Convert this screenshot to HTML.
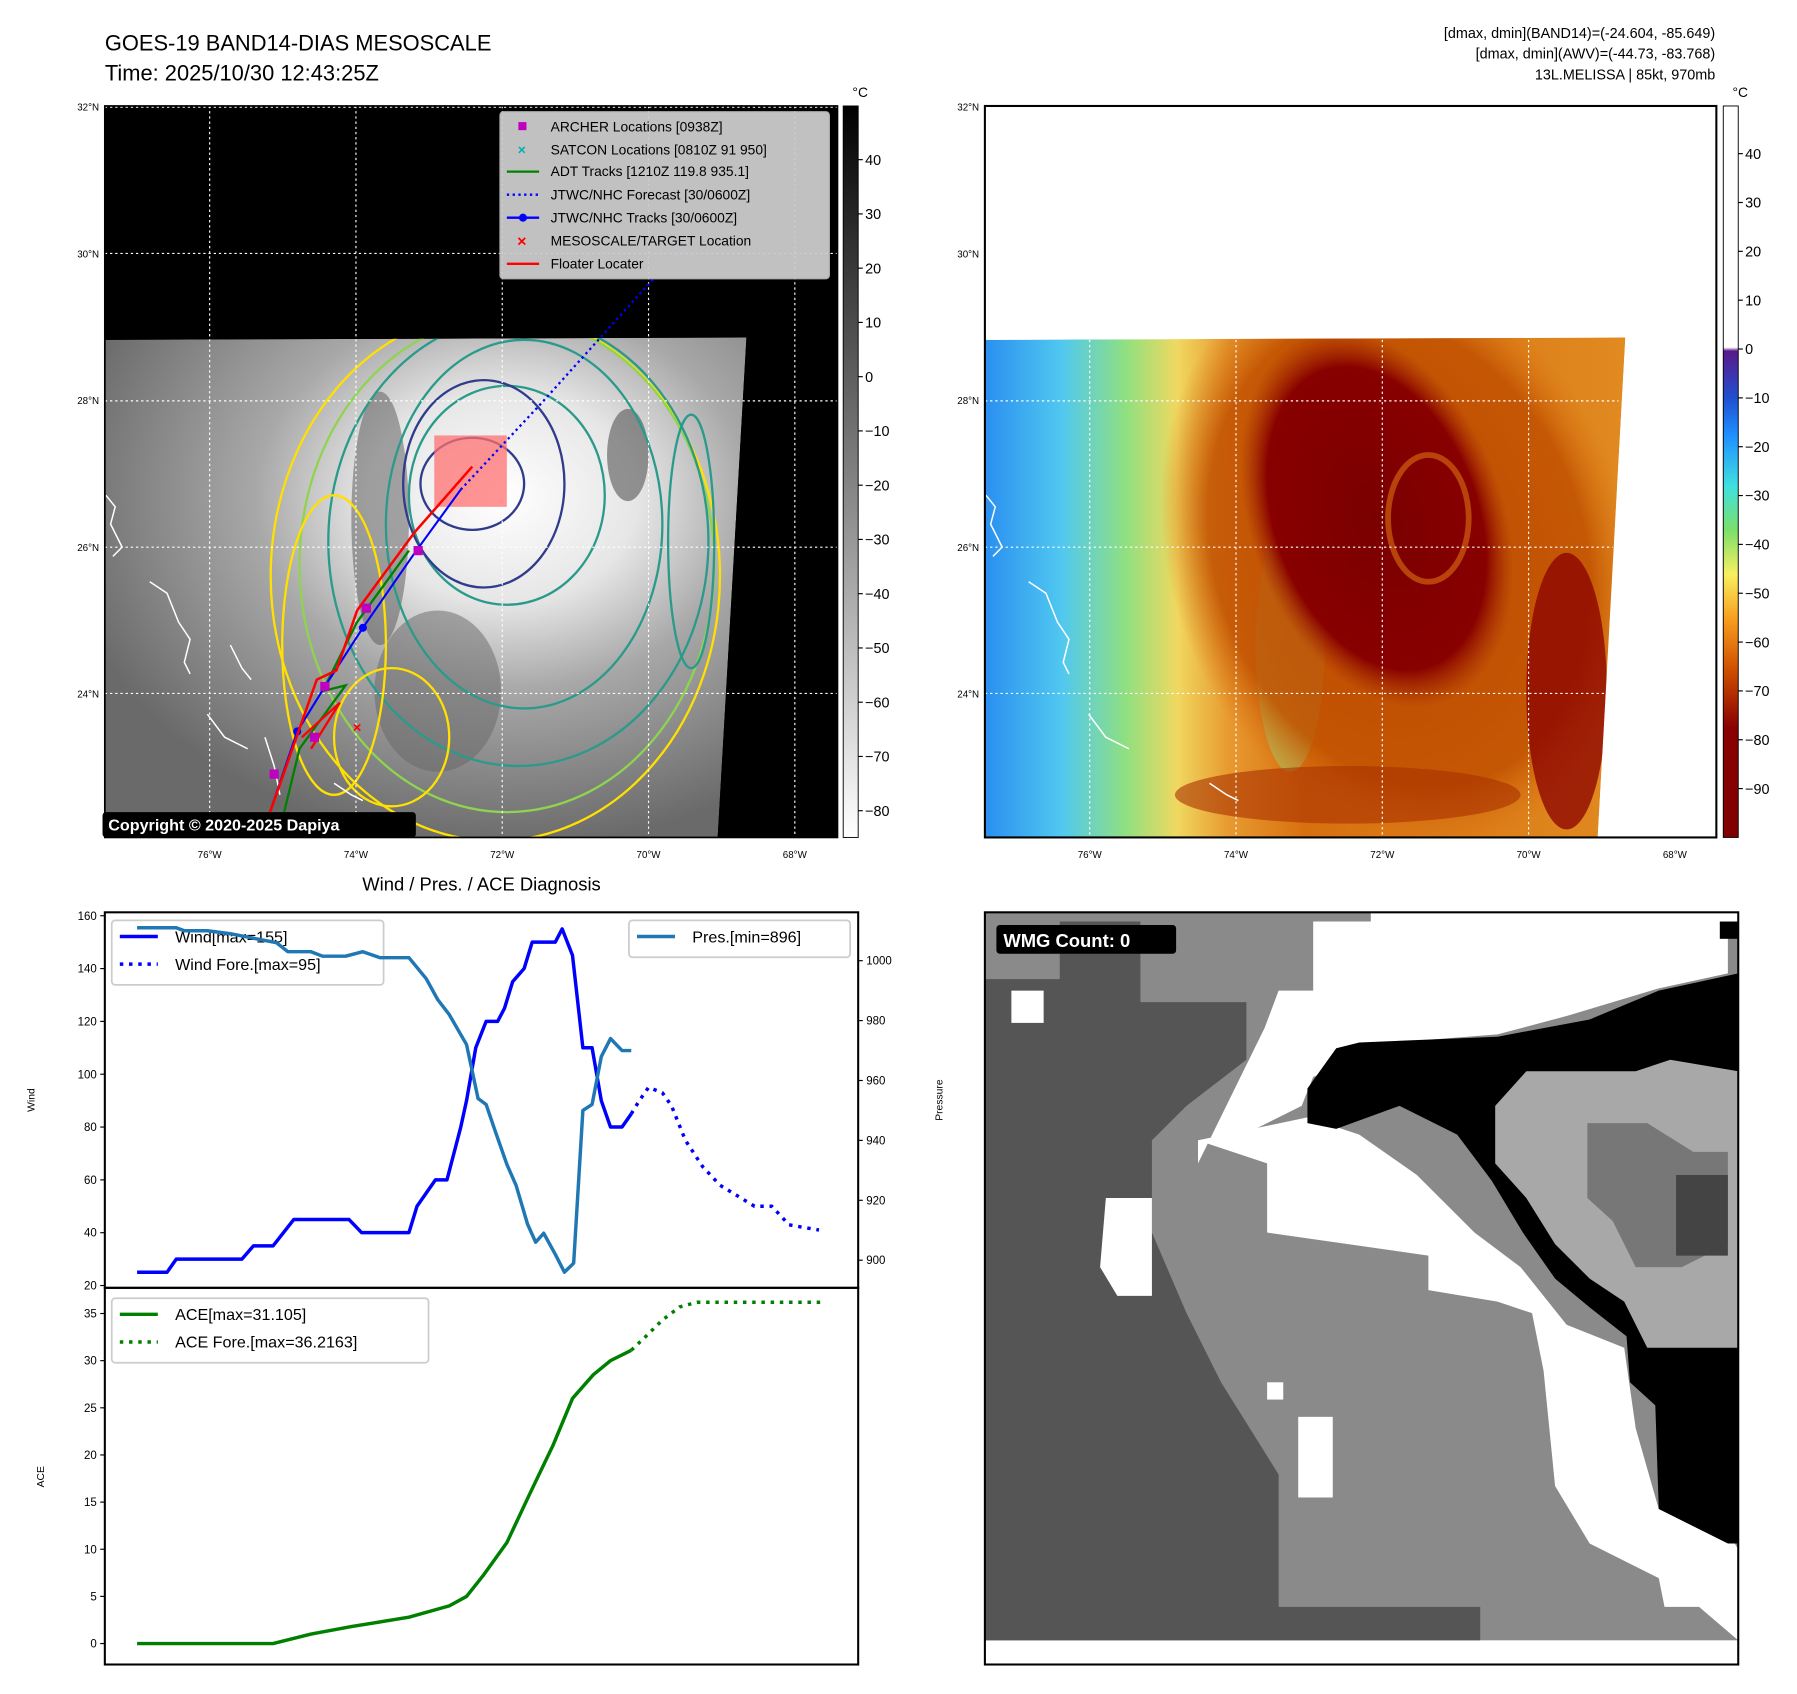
<!DOCTYPE html>
<html><head><meta charset="utf-8">
<style>
html,body{margin:0;padding:0;background:#fff;}
svg{display:block;font-family:"Liberation Sans","DejaVu Sans",sans-serif;}
</style></head>
<body>
<svg id="root" width="1797" height="1694" viewBox="0 0 1560 1470.6" xmlns="http://www.w3.org/2000/svg">
<defs>
  <radialGradient id="irGray" cx="0.62" cy="0.32" r="0.7">
    <stop offset="0" stop-color="#ffffff"/>
    <stop offset="0.3" stop-color="#e6e6e6"/>
    <stop offset="0.55" stop-color="#a8a8a8"/>
    <stop offset="1" stop-color="#6a6a6a"/>
  </radialGradient>
  <linearGradient id="cbGray" x1="0" y1="0" x2="0" y2="1">
    <stop offset="0" stop-color="#000"/><stop offset="1" stop-color="#fff"/>
  </linearGradient>
  <linearGradient id="cbColor" x1="0" y1="0" x2="0" y2="1">
    <stop offset="0" stop-color="#ffffff"/>
    <stop offset="0.33" stop-color="#ffffff"/>
    <stop offset="0.335" stop-color="#5a1a8a"/>
    <stop offset="0.4" stop-color="#2050d0"/>
    <stop offset="0.45" stop-color="#1e90ff"/>
    <stop offset="0.52" stop-color="#40e0e0"/>
    <stop offset="0.58" stop-color="#7be06a"/>
    <stop offset="0.64" stop-color="#f8f060"/>
    <stop offset="0.7" stop-color="#f8a020"/>
    <stop offset="0.77" stop-color="#d05000"/>
    <stop offset="0.85" stop-color="#8a0000"/>
    <stop offset="1" stop-color="#800000"/>
  </linearGradient>
  <linearGradient id="awvBase" x1="0" y1="0" x2="1" y2="0">
    <stop offset="0" stop-color="#2a8ff0"/>
    <stop offset="0.12" stop-color="#50c8f0"/>
    <stop offset="0.22" stop-color="#90e080"/>
    <stop offset="0.3" stop-color="#f0d860"/>
    <stop offset="0.38" stop-color="#e89a30"/>
    <stop offset="0.5" stop-color="#d87010"/>
    <stop offset="1" stop-color="#e08a20"/>
  </linearGradient>
  <radialGradient id="awvCore" cx="0.5" cy="0.5" r="0.5">
    <stop offset="0" stop-color="#7a0000"/>
    <stop offset="0.8" stop-color="#880000"/>
    <stop offset="1" stop-color="#a02800" stop-opacity="0"/>
  </radialGradient>
  <radialGradient id="awvRing" cx="0.5" cy="0.5" r="0.5">
    <stop offset="0" stop-color="#b84000"/>
    <stop offset="0.8" stop-color="#c05000"/>
    <stop offset="1" stop-color="#d87010" stop-opacity="0"/>
  </radialGradient>
  <clipPath id="clipL"><polygon points="91,295 648,293 623,727 91,727"/></clipPath>
  <clipPath id="clipR"><polygon points="855,295 1411,293 1387,727 855,727"/></clipPath>
  <clipPath id="clipLA"><rect x="91" y="92" width="636" height="635"/></clipPath>
</defs>

<!-- Header -->
<text x="91" y="44" font-size="19">GOES-19 BAND14-DIAS MESOSCALE</text>
<text x="91" y="70" font-size="19">Time: 2025/10/30 12:43:25Z</text>
<text x="1489" y="33" font-size="12.5" text-anchor="end">[dmax, dmin](BAND14)=(-24.604, -85.649)</text>
<text x="1489" y="51" font-size="12.5" text-anchor="end">[dmax, dmin](AWV)=(-44.73, -83.768)</text>
<text x="1489" y="69" font-size="12.5" text-anchor="end">13L.MELISSA | 85kt, 970mb</text>

<!-- Left map -->
<g>
  <rect x="91" y="92" width="636" height="635" fill="#000"/>
  <g clip-path="url(#clipL)">
    <polygon points="91,295 648,293 623,727 91,727" fill="url(#irGray)"/>
    <ellipse cx="330" cy="450" rx="25" ry="110" fill="#555" opacity="0.5"/>
    <ellipse cx="380" cy="600" rx="55" ry="70" fill="#666" opacity="0.5"/>
    <ellipse cx="545" cy="395" rx="18" ry="40" fill="#555" opacity="0.6"/>
    <g fill="none" stroke-width="2">
      <ellipse cx="430" cy="500" rx="195" ry="230" stroke="#ffe000"/>
      <ellipse cx="440" cy="490" rx="180" ry="215" stroke="#8fd44f"/>
      <ellipse cx="450" cy="470" rx="165" ry="195" stroke="#2a9a8a"/>
      <ellipse cx="455" cy="455" rx="120" ry="160" stroke="#2a9a8a"/>
      <ellipse cx="440" cy="430" rx="85" ry="95" stroke="#2a9a8a"/>
      <ellipse cx="420" cy="420" rx="70" ry="90" stroke="#2f3b8c"/>
      <ellipse cx="410" cy="420" rx="45" ry="40" stroke="#2f3b8c"/>
      <ellipse cx="290" cy="560" rx="45" ry="130" stroke="#ffe000"/>
      <ellipse cx="340" cy="640" rx="50" ry="60" stroke="#ffe000"/>
      <ellipse cx="600" cy="470" rx="20" ry="110" stroke="#2a9a8a"/>
    </g>
  </g>
  <g clip-path="url(#clipLA)">
  <g fill="none" stroke="#fff" stroke-width="1.3">
    <path d="M92,430 l8,10 l-4,15 l10,20 l-8,8"/>
    <path d="M130,505 l15,10 l10,25 l10,15 l-5,20 l5,10"/>
    <path d="M200,560 l10,20 l8,10"/>
    <path d="M180,620 l15,20 l20,10"/>
    <path d="M230,640 l8,25 l5,25"/>
    <path d="M290,680 l15,10 l10,5"/>
  </g>
  <g stroke="#fff" stroke-width="1" stroke-dasharray="2,2.5">
    <line x1="91" y1="93" x2="727" y2="93"/><line x1="91" y1="220" x2="727" y2="220"/>
    <line x1="91" y1="348" x2="727" y2="348"/><line x1="91" y1="475" x2="727" y2="475"/>
    <line x1="91" y1="602" x2="727" y2="602"/>
    <line x1="182" y1="92" x2="182" y2="727"/><line x1="309" y1="92" x2="309" y2="727"/>
    <line x1="436" y1="92" x2="436" y2="727"/><line x1="563" y1="92" x2="563" y2="727"/>
    <line x1="690" y1="92" x2="690" y2="727"/>
  </g>
  <rect x="377" y="378" width="63" height="62" fill="#ff7070" opacity="0.75"/>
  <polyline points="400,425 470,350 560,250 705,95" fill="none" stroke="#0000ff" stroke-width="2" stroke-dasharray="2,3"/>
  <polyline points="245,712 260,650 300,595 280,600 310,540 355,478" fill="none" stroke="#008000" stroke-width="2"/>
  <polyline points="232,712 258,635 282,596 315,545 360,480 400,425" fill="none" stroke="#0000ff" stroke-width="1.8"/>
  <g fill="#0000ff"><circle cx="258" cy="635" r="3.5"/><circle cx="315" cy="545" r="3.5"/></g>
  <polyline points="232,712 275,590 292,582 310,530 360,462 410,405" fill="none" stroke="#ff0000" stroke-width="2.2"/>
  <polyline points="262,640 295,610 270,650" fill="none" stroke="#ff0000" stroke-width="2"/>
  <g fill="#c000c0">
    <rect x="359" y="474" width="8" height="8"/><rect x="314" y="524" width="8" height="8"/>
    <rect x="278" y="592" width="8" height="8"/><rect x="269" y="636" width="8" height="8"/>
    <rect x="234" y="668" width="8" height="8"/>
  </g>
  <text x="310" y="636" font-size="13" fill="#ff0000" text-anchor="middle" font-weight="bold">×</text>
  </g>
</g>
<rect x="91" y="92" width="636" height="635" fill="none" stroke="#000" stroke-width="1.5"/>

<!-- Left legend -->
<g font-size="12">
  <rect x="434" y="97" width="286" height="145" rx="3" fill="#cccccc" stroke="#b8b8b8" opacity="0.95"/>
  <rect x="450" y="106" width="7" height="7" fill="#c000c0"/><text x="478" y="114">ARCHER Locations [0938Z]</text>
  <text x="453" y="134" fill="#00b0b0" font-size="12" text-anchor="middle" font-weight="bold">×</text><text x="478" y="134">SATCON Locations [0810Z 91 950]</text>
  <line x1="440" y1="149" x2="468" y2="149" stroke="#008000" stroke-width="2"/><text x="478" y="153">ADT Tracks [1210Z 119.8 935.1]</text>
  <line x1="440" y1="169" x2="468" y2="169" stroke="#0000ff" stroke-width="2" stroke-dasharray="2,3"/><text x="478" y="173">JTWC/NHC Forecast [30/0600Z]</text>
  <line x1="440" y1="189" x2="468" y2="189" stroke="#0000ff" stroke-width="2"/><circle cx="454" cy="189" r="3.5" fill="#0000ff"/><text x="478" y="193">JTWC/NHC Tracks [30/0600Z]</text>
  <text x="453" y="214" fill="#ff0000" font-size="14" text-anchor="middle" font-weight="bold">×</text><text x="478" y="213">MESOSCALE/TARGET Location</text>
  <line x1="440" y1="229" x2="468" y2="229" stroke="#ff0000" stroke-width="2"/><text x="478" y="233">Floater Locater</text>
</g>
<rect x="89" y="705" width="272" height="22" rx="3" fill="#000"/>
<text x="94" y="721" font-size="14" font-weight="bold" fill="#fff">Copyright © 2020-2025 Dapiya</text>

<!-- Right map -->
<g>
  <rect x="855" y="92" width="635" height="635" fill="#fff"/>
  <g clip-path="url(#clipR)">
    <polygon points="855,295 1411,293 1387,727 855,727" fill="url(#awvBase)"/>
    <ellipse cx="1120" cy="560" rx="30" ry="110" fill="#9ae080" opacity="0.5"/>
    <ellipse cx="1215" cy="480" rx="200" ry="260" fill="url(#awvRing)" transform="rotate(-20 1215 480)" opacity="0.85"/>
    <ellipse cx="1195" cy="450" rx="110" ry="170" fill="url(#awvCore)" transform="rotate(-20 1195 450)"/>
    <ellipse cx="1360" cy="600" rx="35" ry="120" fill="#8a0000" opacity="0.75"/>
    <ellipse cx="1240" cy="450" rx="35" ry="55" fill="none" stroke="#d06010" stroke-width="5" opacity="0.7"/>
    <ellipse cx="1170" cy="690" rx="150" ry="25" fill="#a83000" opacity="0.6"/>
  </g>
  <g fill="none" stroke="#fff" stroke-width="1.3">
    <path d="M856,430 l8,10 l-4,15 l10,20 l-8,8"/>
    <path d="M893,505 l15,10 l10,25 l10,15 l-5,20 l5,10"/>
    <path d="M945,620 l15,20 l20,10"/>
    <path d="M1050,680 l15,10 l10,5"/>
  </g>
  <g stroke="#fff" stroke-width="1" stroke-dasharray="2,2.5">
    <line x1="855" y1="348" x2="1405" y2="348"/><line x1="855" y1="475" x2="1400" y2="475"/>
    <line x1="855" y1="602" x2="1394" y2="602"/>
    <line x1="946" y1="295" x2="946" y2="727"/><line x1="1073" y1="295" x2="1073" y2="727"/>
    <line x1="1200" y1="295" x2="1200" y2="727"/><line x1="1327" y1="295" x2="1327" y2="727"/>
  </g>
</g>
<rect x="855" y="92" width="635" height="635" fill="none" stroke="#000" stroke-width="1.8"/>

<!-- Colorbars -->
<rect x="732" y="92" width="13" height="635" fill="url(#cbGray)" stroke="#000" stroke-width="0.8"/>
<rect x="1496" y="92" width="13" height="635" fill="url(#cbColor)" stroke="#000" stroke-width="0.8"/>
<text x="740" y="84" font-size="12">°C</text>
<text x="1504" y="84" font-size="12">°C</text>
<g id="cbTicks" font-size="12.5"></g>

<!-- Map axis labels -->
<g id="mapLabels" font-size="8.5"></g>

<text x="418" y="773" font-size="16" text-anchor="middle">Wind / Pres. / ACE Diagnosis</text>

<!-- Charts -->
<g id="charts"></g>

<!-- WMG panel -->
<g>
  <clipPath id="clipW"><rect x="855" y="792" width="654" height="653"/></clipPath>
  <g clip-path="url(#clipW)">
    <rect x="855" y="792" width="654" height="653" fill="#fff"/>
    <rect x="855" y="792" width="654" height="632" fill="#8a8a8a"/>
    <polygon fill="#555" points="855,850 920,850 920,800 990,800 990,870 1082,870 1082,920 1030,960 1000,990 1000,1070 1030,1140 1060,1200 1110,1280 1110,1395 1285,1395 1285,1424 855,1424"/>
    <polygon fill="#fff" points="1098,892 1110,860 1140,860 1140,800 1190,800 1190,792 1509,792 1509,800 1500,800 1500,845 1440,858 1360,882 1300,898 1210,905 1140,935 1130,960 1090,980 1040,990 1040,1010"/>
    <polygon fill="#fff" points="1040,990 1135,970 1180,985 1230,1020 1280,1070 1320,1100 1360,1150 1410,1170 1420,1240 1440,1310 1500,1330 1509,1345 1509,1424 1475,1395 1445,1395 1440,1370 1380,1340 1350,1290 1340,1190 1330,1140 1300,1130 1240,1120 1240,1090 1100,1070 1100,1010"/>
    <polygon fill="#fff" points="960,1040 1000,1040 1000,1125 970,1125 955,1100"/>
    <polygon fill="#000" points="1135,945 1160,910 1180,905 1300,900 1380,885 1440,860 1509,845 1509,1340 1500,1340 1440,1310 1437,1220 1415,1200 1412,1160 1380,1135 1350,1110 1322,1070 1295,1025 1265,985 1215,960 1160,980 1135,975"/>
    <polygon fill="#a8a8a8" points="1298,960 1325,930 1420,930 1450,920 1509,930 1509,1170 1430,1170 1410,1130 1380,1110 1350,1080 1325,1040 1298,1010"/>
    <polygon fill="#777" points="1378,975 1430,975 1470,1000 1500,1000 1500,1080 1460,1100 1420,1100 1400,1060 1378,1040"/>
    <polygon fill="#444" points="1455,1020 1500,1020 1500,1090 1455,1090"/>
    <rect x="1127" y="1230" width="30" height="70" fill="#fff"/>
    <rect x="1100" y="1200" width="14" height="15" fill="#fff"/>
    <rect x="878" y="860" width="28" height="28" fill="#fff"/>
    <rect x="1493" y="800" width="16" height="15" fill="#000"/>
  </g>
  <rect x="855" y="792" width="654" height="653" fill="none" stroke="#000" stroke-width="1.8"/>
  <rect x="865" y="803" width="156" height="25" rx="3" fill="#000"/>
  <text x="871" y="822" font-size="16" font-weight="bold" fill="#fff">WMG Count: 0</text>
</g>

<script>
// ---- chart data ----
const windT = [0,26,34,91,101,118,136,184,195,236,243,259,269,281,286,294,303,313,319,326,336,343,363,369,378,387,395,403,411,421,429];
const windV = [25,25,30,30,35,35,45,45,40,40,50,60,60,80,90,110,120,120,125,135,140,150,150,155,145,110,110,90,80,80,85];
const windForeT = [429,436,444,456,464,476,491,506,521,536,551,566,579,592];
const windForeV = [85,90,95,93,88,75,65,58,54,50,50,43,42,41];
const presT = [0,34,41,61,81,121,131,151,161,181,196,211,236,251,261,271,286,296,303,311,321,329,339,346,353,363,371,379,387,395,403,411,421,429];
const presV = [1011,1011,1010,1010,1009,1006,1003,1003,1001.5,1001.5,1003,1001,1001,994,987,982,972,954,952,943,932,925,912,906,909,902,896,899,950,952,968,974,970,970];
const aceT = [0,118,151,186,236,271,286,301,321,341,361,378,396,411,429];
const aceV = [0,0,1,1.8,2.8,4,5,7.3,10.7,15.9,21,26,28.5,30,31.1];
const aceForeT = [429,441,456,471,486,597];
const aceForeV = [31.1,32.5,34.3,35.7,36.2,36.2];
const windTicks = [20,40,60,80,100,120,140,160];
const presTicks = [900,920,940,960,980,1000];
const aceTicks = [0,5,10,15,20,25,30,35];
const grayCbTicks = [40,30,20,10,0,-10,-20,-30,-40,-50,-60,-70,-80];
const colorCbTicks = [40,30,20,10,0,-10,-20,-30,-40,-50,-60,-70,-80,-90];
const latLabels = ["32°N","30°N","28°N","26°N","24°N"];
const lonLabels = ["76°W","74°W","72°W","70°W","68°W"];

const NS = "http://www.w3.org/2000/svg";
function mk(tag, attrs, parent){const e=document.createElementNS(NS,tag);for(const k in attrs)e.setAttribute(k,attrs[k]);parent.appendChild(e);return e;}

// axis functions
const xT = t => 119 + t * 1.0;
const yWind = v => 1116 - (v - 20) * 2.293;
const yPres = v => 834 - (v - 1000) * 2.6;
const yAce = v => 1426.8 - v * 8.186;

const charts = document.getElementById('charts');

// legends (drawn first so lines show over them)
function legend(x,y,w,h,items,name){
  const g=mk('g',{},charts);
  
  
  mk('rect',{x:x,y:y,width:w,height:h,rx:3,fill:'#fff',stroke:'#ccc','stroke-width':1.5},g);
  items.forEach((it,i)=>{
    const cy=y+14+i*24;
    const l=mk('line',{x1:x+7,y1:cy,x2:x+40,y2:cy,stroke:it.c,'stroke-width':3},g);
    if(it.d) l.setAttribute('stroke-dasharray','3,5');
    const t=mk('text',{x:x+55,y:cy+5,'font-size':14},g); t.textContent=it.t;
  });
}
legend(97,799,236,56,[{c:'#0000ff',t:'Wind[max=155]'},{c:'#0000ff',t:'Wind Fore.[max=95]',d:1}],'wind-legend');
legend(546,799,192,32,[{c:'#1f77b4',t:'Pres.[min=896]'}],'pressure-legend');
legend(97,1127,275,56,[{c:'#008000',t:'ACE[max=31.105]'},{c:'#008000',t:'ACE Fore.[max=36.2163]',d:1}],'ace-legend');

function line(ts, vs, yf, color, dash, name){
  const pts = ts.map((t,i)=> xT(t).toFixed(1)+','+yf(vs[i]).toFixed(1)).join(' ');
  const p = mk('polyline',{points:pts,fill:'none',stroke:color,'stroke-width':3,'stroke-linejoin':'round'},charts);
  if(dash) p.setAttribute('stroke-dasharray',dash);
  
  
}
line(windT, windV, yWind, '#0000ff', null, 'wind-line');
line(windForeT, windForeV, yWind, '#0000ff', '3,5', 'wind-forecast-line');
line(presT, presV, yPres, '#1f77b4', null, 'pressure-line');
line(aceT, aceV, yAce, '#008000', null, 'ace-line');
line(aceForeT, aceForeV, yAce, '#008000', '3,5', 'ace-forecast-line');

// axes frames
mk('rect',{x:91,y:792,width:654,height:326,fill:'none',stroke:'#000','stroke-width':1.8},charts);
mk('rect',{x:91,y:1118,width:654,height:327,fill:'none',stroke:'#000','stroke-width':1.8},charts);

windTicks.forEach(v=>{
  const y=yWind(v);
  mk('line',{x1:87,y1:y,x2:91,y2:y,stroke:'#000'},charts);
  const t=mk('text',{x:84,y:y+3.5,'font-size':10,'text-anchor':'end'},charts); t.textContent=v;
  
  
});
presTicks.forEach(v=>{
  const y=yPres(v);
  mk('line',{x1:745,y1:y,x2:749,y2:y,stroke:'#000'},charts);
  const t=mk('text',{x:752,y:y+3.5,'font-size':10},charts); t.textContent=v;
  
  
});
aceTicks.forEach(v=>{
  const y=yAce(v);
  mk('line',{x1:87,y1:y,x2:91,y2:y,stroke:'#000'},charts);
  const t=mk('text',{x:84,y:y+3.5,'font-size':10,'text-anchor':'end'},charts); t.textContent=v;
  
  
});
function vlabel(x,y,txt,name){const t=mk('text',{x:x,y:y,'font-size':9,'text-anchor':'middle',transform:`rotate(-90 ${x} ${y})`},charts);t.textContent=txt;
  
  }
vlabel(30,955,'Wind','wind-axis-title');
vlabel(818,955,'Pressure','pressure-axis-title');
vlabel(38,1282,'ACE','ace-axis-title');

// colorbar ticks
const cbg=document.getElementById('cbTicks');
grayCbTicks.forEach(v=>{
  const y=327 - v*4.71;
  mk('line',{x1:745,y1:y,x2:749,y2:y,stroke:'#000'},cbg);
  const t=mk('text',{x:751,y:y+4.5},cbg); t.textContent=(v<0?'\u2212'+(-v):v);
  
  
});
colorCbTicks.forEach(v=>{
  const y=303 - v*4.24;
  mk('line',{x1:1509,y1:y,x2:1513,y2:y,stroke:'#000'},cbg);
  const t=mk('text',{x:1515,y:y+4.5},cbg); t.textContent=(v<0?'\u2212'+(-v):v);
  
  
});

// map labels
const ml=document.getElementById('mapLabels');
[0,855-91].forEach(off=>{
  latLabels.forEach((s,i)=>{
    const t=mk('text',{x:86+off,y:96+i*127.4,'text-anchor':'end'},ml); t.textContent=s;
    
    
  });
  lonLabels.forEach((s,i)=>{
    const t=mk('text',{x:182+off+i*127,y:745,'text-anchor':'middle'},ml); t.textContent=s;
    
    
  });
});
</script>
</svg>
</body></html>
